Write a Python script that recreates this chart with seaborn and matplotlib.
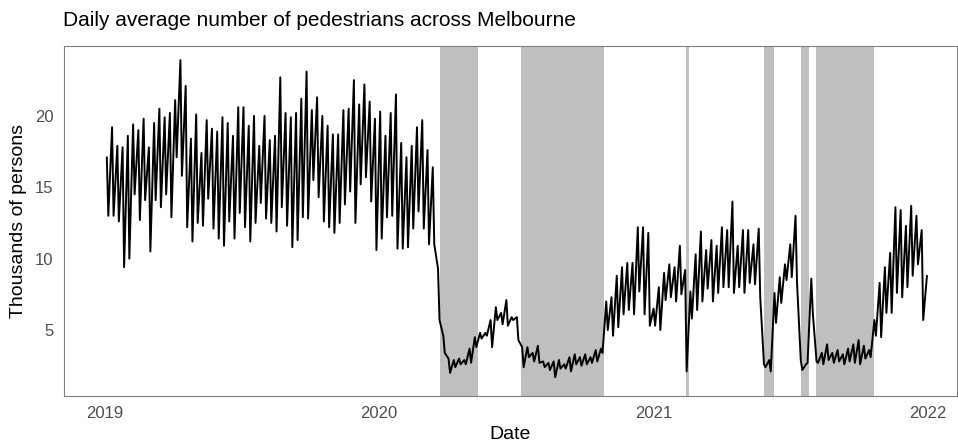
"""
Daily average number of pedestrians across Melbourne, with lockdown periods shaded.
"""

import matplotlib
matplotlib.use("Agg")
import matplotlib.pyplot as plt
import matplotlib.dates as mdates
import seaborn as sns
import pandas as pd

# Weekly peak (Friday) and trough (Sunday) values, thousands of persons.
# Week 0 starts on 2019-01-01.
high_2019 = [17.1, 19.2, 17.9, 17.8, 18.6, 19.4, 19.0, 19.8, 17.8, 19.5,
             20.5, 19.9, 20.2, 21.1, 23.9, 22.1, 18.4, 20.1, 17.4, 19.7,
             19.1, 18.9, 19.9, 19.5, 18.6, 20.6, 20.6, 19.3, 20.0, 17.9,
             20.0, 18.3, 18.6, 22.7, 20.2, 19.9, 20.2, 21.2, 23.1, 20.4,
             21.3, 20.0, 19.3, 18.7, 18.7, 20.4, 20.5, 22.5, 20.8, 22.2,
             21.0, 19.8]
low_2019 = [13.0, 13.0, 12.6, 9.4, 10.0, 14.5, 12.7, 14.1, 10.5, 14.1,
            13.6, 14.5, 12.9, 17.1, 15.8, 12.2, 11.2, 12.5, 12.3, 14.2,
            12.1, 11.4, 10.9, 12.6, 11.4, 13.2, 12.2, 11.2, 12.5, 13.9,
            12.8, 12.5, 11.9, 13.6, 12.3, 10.8, 11.3, 12.9, 12.8, 15.5,
            14.3, 12.6, 12.2, 11.8, 12.5, 13.8, 14.7, 12.5, 15.2, 15.7,
            14.0, 10.6]

high_2020 = [20.3, 18.6, 20.2, 21.5, 18.1, 17.1, 17.9, 19.2, 19.7, 17.6,
             16.4, 9.3, 4.6, 3.0, 2.9, 3.0, 2.9, 3.7, 4.5, 4.8,
             4.8, 5.7, 6.6, 6.2, 7.1, 5.9, 5.9, 3.8, 3.8, 3.4,
             3.9, 2.8, 2.7, 2.8, 2.9, 2.6, 3.1, 3.3, 3.1, 3.3,
             3.1, 3.6, 3.7, 7.0, 7.3, 8.8, 9.4, 9.7, 9.7, 12.2,
             12.2, 11.8]
low_2020 = [11.4, 12.9, 13.0, 10.7, 10.7, 10.8, 12.1, 13.3, 12.1, 11.0,
            11.0, 5.7, 3.4, 2.0, 2.4, 2.6, 2.6, 2.7, 3.8, 4.4,
            4.6, 3.8, 5.7, 5.4, 5.3, 5.7, 4.3, 2.4, 3.1, 2.8,
            2.7, 2.4, 2.2, 1.7, 2.3, 2.3, 2.1, 2.6, 2.5, 2.6,
            2.7, 2.8, 3.4, 5.0, 4.6, 5.2, 6.1, 6.4, 6.1, 7.7,
            6.1, 5.3]

high_2021 = [6.5, 8.0, 9.0, 9.6, 9.4, 10.9, 9.2, 7.7, 10.3, 11.9,
             10.6, 11.3, 10.9, 12.2, 12.0, 14.0, 10.9, 12.0, 12.0, 11.0,
             12.1, 2.6, 2.9, 7.6, 8.7, 9.6, 11.0, 13.0, 2.9, 2.6,
             8.6, 2.8, 3.4, 4.0, 3.4, 3.6, 3.3, 3.7, 4.0, 4.3,
             3.9, 3.6, 5.7, 8.3, 9.4, 10.4, 13.6, 13.4, 12.3, 13.7,
             13.0, 12.0, 8.8]
low_2021 = [5.3, 5.0, 7.1, 7.3, 7.0, 7.5, 2.1, 5.8, 6.4, 7.0,
            7.9, 7.0, 7.6, 8.0, 8.0, 7.6, 8.0, 7.6, 8.3, 8.2,
            7.3, 2.4, 2.1, 5.5, 6.9, 8.5, 8.7, 8.3, 2.2, 2.7,
            6.2, 2.7, 2.6, 2.9, 2.7, 2.8, 2.6, 2.8, 2.7, 2.6,
            3.0, 3.1, 4.6, 4.5, 6.2, 6.2, 7.6, 7.3, 8.0, 8.8,
            9.6, 5.7]

# Lockdown periods
lockdown_start = ["2020-03-23", "2020-07-09", "2021-02-13",
                  "2021-05-28", "2021-07-16", "2021-08-05"]
lockdown_end = ["2020-05-12", "2020-10-27", "2021-02-17",
                "2021-06-10", "2021-07-27", "2021-10-21"]

first_day = pd.Timestamp("2019-01-01")
last_day = pd.Timestamp("2021-12-31")

# Build the long table: one peak and one trough per week
highs = high_2019 + high_2020 + high_2021
lows = low_2019 + low_2020 + low_2021
rows = []
for w, v in enumerate(highs):
    rows.append((first_day + pd.Timedelta(days=7 * w + 3), v))
    if w < len(lows):
        rows.append((first_day + pd.Timedelta(days=7 * w + 5), lows[w]))
df = pd.DataFrame(rows, columns=["date", "thousands"])
df = df[df["date"] <= last_day]

sns.set_style("white")
plt.rcParams['font.family'] = ['Liberation Sans', 'DejaVu Sans']

fig = plt.figure(figsize=(9.58, 4.43), dpi=100)
ax = fig.add_axes([64 / 958, 47 / 443, 893 / 958, 350 / 443])

for s, e in zip(lockdown_start, lockdown_end):
    ax.axvspan(pd.Timestamp(s), pd.Timestamp(e), color='#bfbfbf', lw=0, zorder=0)

sns.lineplot(data=df, x="date", y="thousands", color="black", linewidth=1.4, ax=ax)

ax.set_xlim(first_day - pd.Timedelta(days=54), first_day + pd.Timedelta(days=1135))
ax.set_ylim(0.38, 24.89)
ax.set_yticks([5, 10, 15, 20])
ax.xaxis.set_major_locator(mdates.YearLocator())
ax.xaxis.set_major_formatter(mdates.DateFormatter('%Y'))

ax.tick_params(axis='both', colors='#7f7f7f', labelcolor='#4d4d4d',
               labelsize=12, length=4, width=0.8, direction='out')
for sp in ax.spines.values():
    sp.set_color('#7f7f7f')
    sp.set_linewidth(0.8)

ax.set_xlabel("Date", fontsize=14, labelpad=3, color='black')
ax.set_ylabel("Thousands of persons", fontsize=14, labelpad=6, color='black')
fig.text(63 / 958, 1 - 21 / 443, "Daily average number of pedestrians across Melbourne",
         fontsize=15, ha='left', va='center', color='black')

fig.savefig("out.png", dpi=100)
